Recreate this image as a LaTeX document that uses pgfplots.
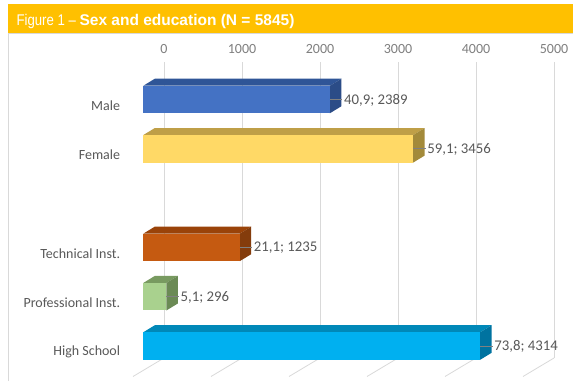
\documentclass[border=0pt]{standalone}
\usepackage{pgfplots}
\pgfplotsset{compat=1.18}
\usepackage{fontspec}
\setmainfont{Carlito}
\newfontfamily\titlefont{Liberation Sans}
\newfontfamily\narrowfont[FakeStretch=0.85]{Liberation Sans}
\definecolor{band}{HTML}{FFC000}
\definecolor{gridc}{HTML}{D9D9D9}
\definecolor{labc}{HTML}{595959}
\definecolor{tickc}{HTML}{7F7F7F}
\definecolor{mF}{HTML}{4472C4}\definecolor{mT}{HTML}{2F5597}\definecolor{mS}{HTML}{2B4C87}
\definecolor{fF}{HTML}{FFD966}\definecolor{fT}{HTML}{BF9F47}\definecolor{fS}{HTML}{A38A3A}
\definecolor{tF}{HTML}{C55A11}\definecolor{tT}{HTML}{9A4309}\definecolor{tS}{HTML}{843C0C}
\definecolor{pF}{HTML}{A9D18E}\definecolor{pT}{HTML}{789A60}\definecolor{pS}{HTML}{6B8A55}
\definecolor{hF}{HTML}{00B0F0}\definecolor{hT}{HTML}{0088B8}\definecolor{hS}{HTML}{0073A0}
% #1 value, #2 y position, #3 front, #4 top, #5 side, #6 label
\newcommand{\barthreed}[6]{%
  \pgfmathsetmacro\xa{#1+147}%
  \pgfmathsetmacro\xl{#1+160}%
  \pgfmathsetmacro\ya{#2+0.279}%
  \pgfmathsetmacro\yb{#2+0.421}%
  \pgfmathsetmacro\yc{#2-0.279}%
  \pgfmathsetmacro\yd{#2-0.137}%
  \addplot[fill=#4,draw=none] coordinates {(0,\ya) (#1,\ya) (\xa,\yb) (147,\yb)} -- cycle;
  \addplot[fill=#5,draw=none] coordinates {(#1,\ya) (\xa,\yb) (\xa,\yd) (#1,\yc)} -- cycle;
  \addplot[xbar, fill=#3, draw=none, bar width=27.5pt, bar shift=0pt,
    nodes near coords={#6},
    every node near coord/.style={anchor=west, inner sep=0pt, xshift=14pt, yshift=-0.5pt,
      text=labc, font=\fontsize{14.8}{16}\selectfont}]
    coordinates {(#1,#2)};
  \addplot[gray, line width=0.8pt] coordinates {(#1,#2) (\xl,#2)};
}
\begin{document}
\begin{tikzpicture}
\fill[white] (0,0) rectangle (573pt,381pt);
\path[use as bounding box] (0,0) rectangle (573pt,381pt);
\fill[band] (8pt,348.3pt) rectangle (573pt,376.6pt);
\draw[gridc, line width=0.8pt] (8.5pt,0) -- (8.5pt,348.3pt);
\draw[gridc, line width=0.6pt] (8.5pt,347.9pt) -- (573pt,347.9pt);
\node[anchor=base west, inner sep=0pt, text=white] at (16.4pt,355pt)
  {{\narrowfont\fontsize{15.5}{17}\selectfont Figure 1 – }{\titlefont\bfseries\fontsize{15.5}{17}\selectfont Sex and education (N = 5845)}};
% back wall: gridlines, ticks, floor
\begin{axis}[
  at={(164pt,23pt)}, anchor=south west, scale only axis,
  width=390pt, height=296.3pt,
  xmin=0, xmax=5000, ymin=0, ymax=1, clip=false,
  xtick={0,1000,2000,3000,4000,5000}, ytick=\empty,
  xmajorgrids, grid style={gridc, line width=0.8pt},
  axis line style={draw=none}, tick style={draw=none},
  xticklabel pos=upper,
  xticklabel style={anchor=center, yshift=12.7pt, text=tickc, font=\fontsize{14}{16}\selectfont},
  /pgf/number format/assume math mode=true,
  /pgf/number format/set thousands separator={},
]
\addplot[draw=none] coordinates {(0,0) (5000,1)};
\draw[gridc, line width=0.8pt] (axis cs:0,0) -- (axis cs:-397,-0.0624);
\draw[gridc, line width=0.8pt] (axis cs:1000,0) -- (axis cs:603,-0.0624);
\draw[gridc, line width=0.8pt] (axis cs:2000,0) -- (axis cs:1603,-0.0624);
\draw[gridc, line width=0.8pt] (axis cs:3000,0) -- (axis cs:2603,-0.0624);
\draw[gridc, line width=0.8pt] (axis cs:4000,0) -- (axis cs:3603,-0.0624);
\draw[gridc, line width=0.8pt] (axis cs:5000,0) -- (axis cs:4603,-0.0624);
\end{axis}
% bars
\begin{axis}[
  at={(143.3pt,10.35pt)}, anchor=south west, scale only axis,
  width=390.5pt, height=295.8pt,
  xmin=0, xmax=5000, ymin=-0.5, ymax=5.5, clip=false,
  xtick=\empty,
  ytick={0,1,2,4,5},
  yticklabels={High School, Professional Inst., Technical Inst., Female, Male},
  yticklabel style={anchor=east, inner sep=0pt, xshift=-23pt, yshift=-6pt,
    text=labc, font=\fontsize{14}{16}\selectfont},
  axis line style={draw=none}, tick style={draw=none},
]
\barthreed{2389}{5}{mF}{mT}{mS}{40,9; 2389}
\barthreed{3456}{4}{fF}{fT}{fS}{59,1; 3456}
\barthreed{1235}{2}{tF}{tT}{tS}{21,1; 1235}
\barthreed{296}{1}{pF}{pT}{pS}{5,1; 296}
\barthreed{4314}{0}{hF}{hT}{hS}{73,8; 4314}
\end{axis}
\end{tikzpicture}
\end{document}
